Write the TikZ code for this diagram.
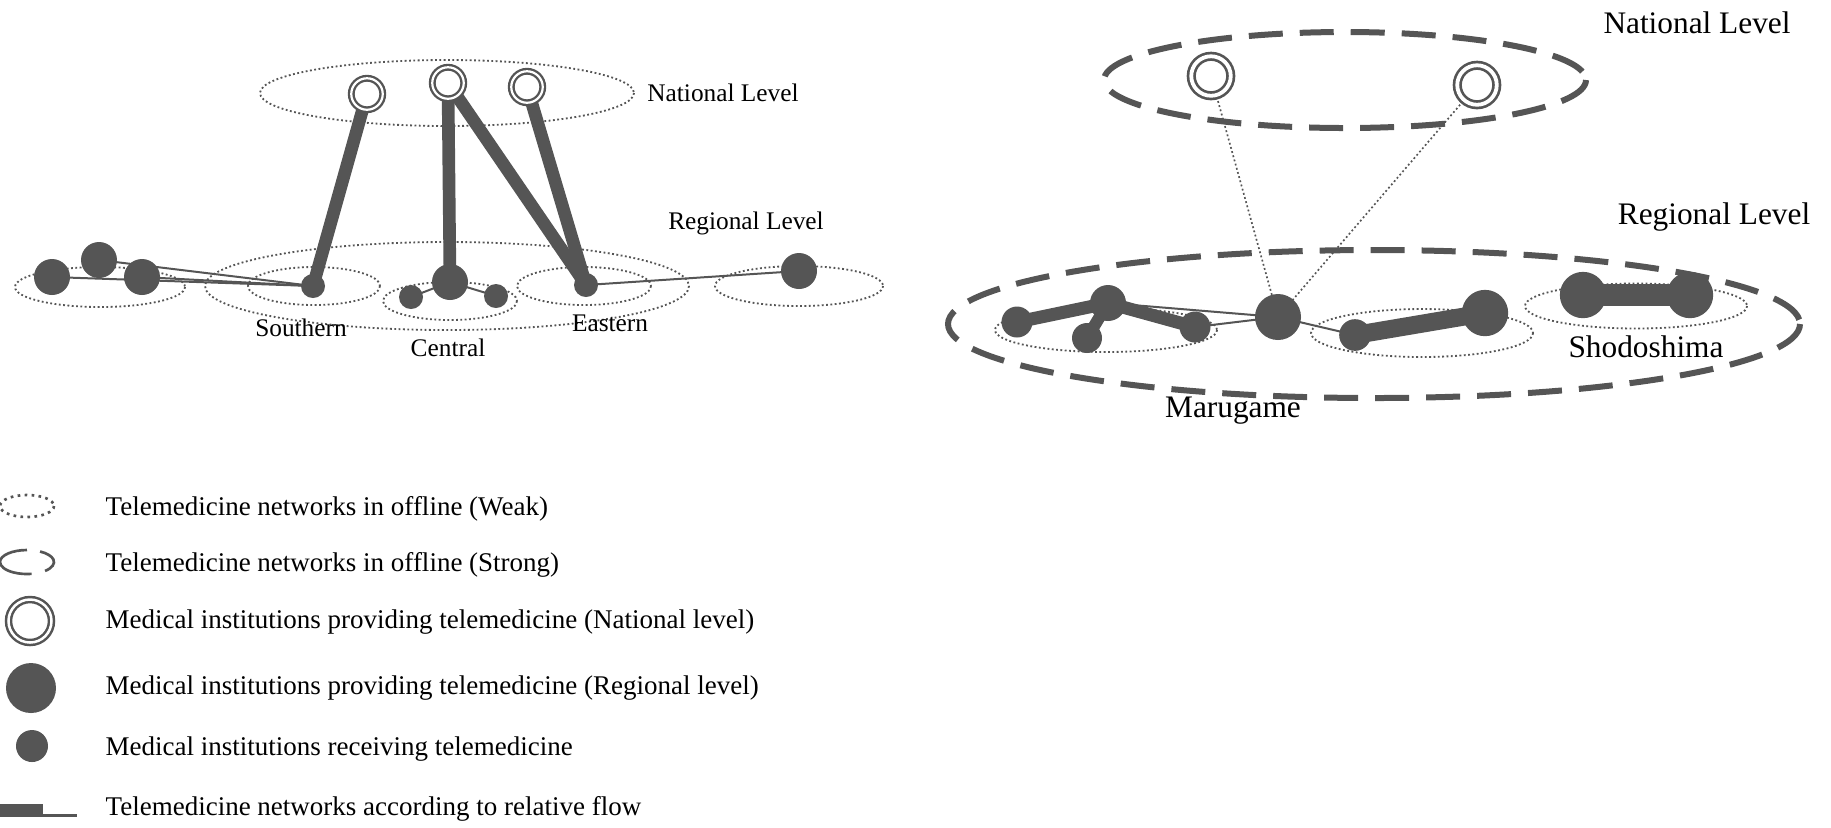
\documentclass[tikz,border=0pt]{standalone}
\usepackage{fontspec}
\setmainfont{Liberation Serif}
\usetikzlibrary{backgrounds}
\definecolor{ngray}{RGB}{85,85,85}

\begin{document}
\begin{tikzpicture}[
  x=0.3pt, y=-0.3pt,
  site/.style={circle, fill=ngray, inner sep=0pt, minimum size=#1},
  natl/.style={circle, draw=ngray, fill=white, double=white, inner sep=0pt,
    minimum size=#1, line width=0.7pt, double distance=0.66pt},
  weak/.style={ngray, line width=0.55pt, dash pattern=on 0.55pt off 0.75pt},
  strong/.style={ngray, line width=1.8pt, dash pattern=on 10.2pt off 5.1pt},
  flow/.style={ngray, line width=#1},
  link/.style={ngray, line width=0.6pt},
  lbl/.style={font=\fontsize{7.6}{9}\selectfont},
  tag/.style={font=\fontsize{9.4}{11}\selectfont},
  key/.style={anchor=west, inner sep=0pt, font=\fontsize{8.1}{10}\selectfont}
]
\useasboundingbox (0,0) rectangle (1831,827);

% left map
\draw [weak] (447,93) ellipse [x radius=187, y radius=33];
\draw [weak] (447,286) ellipse [x radius=242, y radius=44];
\draw [weak] (100,287) ellipse [x radius=85, y radius=20];
\draw [weak] (314,286) ellipse [x radius=66, y radius=19];
\draw [weak] (450,301) ellipse [x radius=67, y radius=19];
\draw [weak] (584,286) ellipse [x radius=67, y radius=19];
\draw [weak] (799,286) ellipse [x radius=84, y radius=20];

\node [natl=9.45pt] (n1) at (367,94) {};
\node [natl=9.45pt] (n2) at (448,83) {};
\node [natl=9.45pt] (n3) at (527,87) {};

\node [site=10.8pt] (w1) at (52,277) {};
\node [site=10.8pt] (w2) at (99,260) {};
\node [site=10.8pt] (w3) at (142,277) {};
\node [site=7.2pt] (s) at (313,286) {};
\node [site=10.8pt] (c) at (450,282) {};
\node [site=7.2pt] (c1) at (411,297) {};
\node [site=7.2pt] (c2) at (496,296) {};
\node [site=7.2pt] (e) at (586,285) {};
\node [site=10.8pt] (r1) at (799,271) {};

\node [lbl] (natlab) at (723,93) {National Level};
\node [lbl] (reglab) at (746,223) {Regional Level};
\node [lbl] (slab) at (301,328) {Southern};
\node [lbl] (clab) at (448,348) {Central};
\node [lbl] (elab) at (610,323) {Eastern};

% right map
\draw [strong] (1345,80) ellipse [x radius=241, y radius=48];
\draw [strong] (1374,324) ellipse [x radius=426, y radius=74];
\draw [weak] (1106,330) ellipse [x radius=111, y radius=22];
\draw [weak] (1422,333) ellipse [x radius=111, y radius=24];
\draw [weak] (1636,306) ellipse [x radius=111, y radius=22.5];

\node [natl=11.85pt, line width=0.8pt, double distance=1.14pt] (N1) at (1211,76) {};
\node [natl=11.85pt, line width=0.8pt, double distance=1.14pt] (N2) at (1477,85) {};

\node [site=9.3pt] (m1) at (1017,322) {};
\node [site=10.8pt] (m2) at (1108,303) {};
\node [site=9pt] (m3) at (1087,338) {};
\node [site=9.3pt] (m4) at (1195,327) {};
\node [site=13.8pt] (hub) at (1278,317) {};
\node [site=9.5pt] (k1) at (1355,335) {};
\node [site=13.9pt] (k2) at (1485,313) {};
\node [site=13.9pt] (p1) at (1583,295) {};
\node [site=13.9pt] (p2) at (1690,295) {};

\node [tag] (Natlab) at (1697,23) {National Level};
\node [tag] (Reglab) at (1714,217) {Regional Level};
\node [tag] (shlab) at (1646,347) {Shodoshima};
\node [tag] (mlab) at (1233,411) {Marugame};

\begin{scope}[on background layer]
\draw [flow=3.8pt] (n1.center) -- (s.center);
\draw [flow=3.8pt] (n2.center) -- (c.center);
\draw [flow=3.8pt] (n2.center) -- (e.center);
\draw [flow=3.8pt] (n3.center) -- (e.center);
\draw [link] (w1.center) -- (s.center);
\draw [link] (w2.center) -- (s.center);
\draw [link] (w3.center) -- (s.center);
\draw [link] (c.center) -- (c1.center);
\draw [link] (c.center) -- (c2.center);
\draw [link] (e.center) -- (r1.center);

\draw [weak, line width=0.5pt] (N1.center) -- (hub.center);
\draw [weak, line width=0.5pt] (N2.center) -- (hub.center);
\draw [flow=3.9pt] (m1.center) -- (m2.center);
\draw [flow=3.6pt] (m2.center) -- (m3.center);
\draw [flow=3.9pt] (m2.center) -- (m4.center);
\draw [link] (m2.center) -- (hub.center);
\draw [link] (m4.center) -- (hub.center);
\draw [link] (hub.center) -- (k1.center);
\draw [flow=5.4pt] (k1.center) -- (k2.center);
\draw [flow=6.5pt] (p1.center) -- (p2.center);
\end{scope}

% legend
\draw [weak, line width=0.8pt, dash pattern=on 0.8pt off 1.3pt] (27,506) ellipse [x radius=27, y radius=11];
\draw [ngray, line width=0.8pt] (27,550) arc [start angle=-90, end angle=-280, x radius=27, y radius=12];
\draw [ngray, line width=0.8pt] (45.07,570.9) arc [start angle=48, end angle=-61, x radius=27, y radius=12];
\node [natl=12.9pt, line width=0.75pt, double distance=0.75pt] (lg3) at (30,621) {};
\node [site=15pt] (lg4) at (31,688) {};
\node [site=9.6pt] (lg5) at (32,746) {};
\coordinate (fa) at (0,810.5);
\coordinate (fb) at (43,810.5);
\coordinate (fc) at (43,815.5);
\coordinate (fd) at (77,815.5);
\draw [flow=3.9pt] (fa) -- (fb);
\draw [flow=0.9pt] (fc) -- (fd);

\node [key] (k1t) at (105,509) {Telemedicine networks in offline (Weak)};
\node [key] (k2t) at (105,565) {Telemedicine networks in offline (Strong)};
\node [key] (k3t) at (105,622) {Medical institutions providing telemedicine (National level)};
\node [key] (k4t) at (105,688) {Medical institutions providing telemedicine (Regional level)};
\node [key] (k5t) at (105,749) {Medical institutions receiving telemedicine};
\node [key] (k6t) at (105,809) {Telemedicine networks according to relative flow};
\end{tikzpicture}
\end{document}
